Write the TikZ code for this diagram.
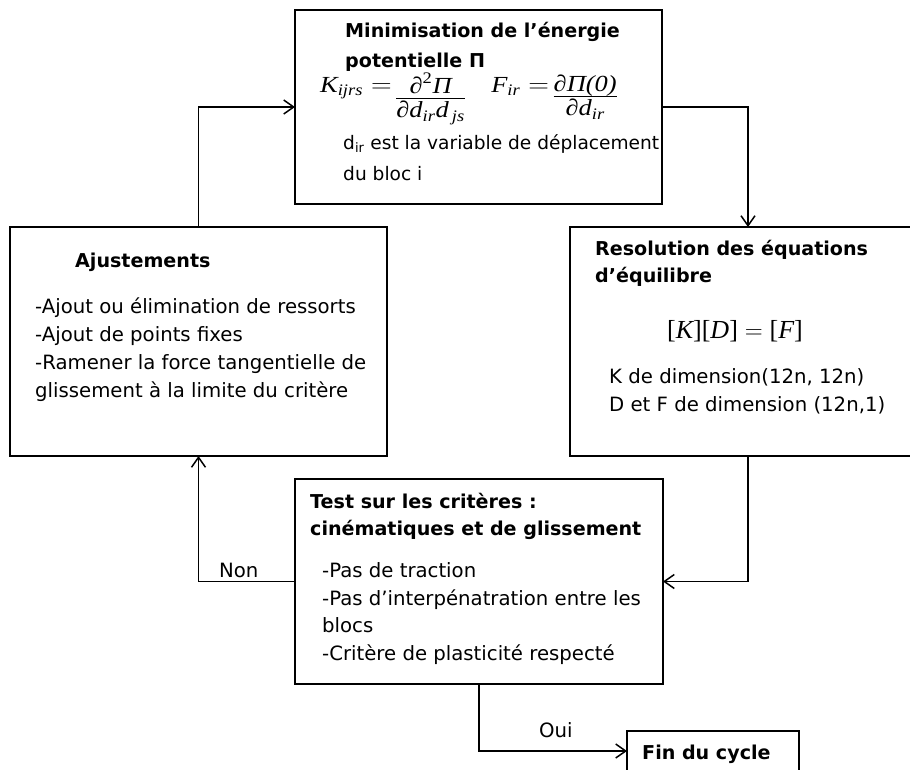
\documentclass[tikz,border=0pt]{standalone}
\usepackage{amsmath}
\usepackage{graphicx}
\usepackage{fontspec}
\setmainfont{DejaVu Sans}
\newfontfamily\tms{Liberation Serif}
\usetikzlibrary{arrows.meta}
\newcommand\mi[1]{\text{\tms\itshape #1}}
\newcommand\mr[1]{\text{\tms\upshape #1}}
\newcommand\myfrac[2]{\begin{array}{@{}c@{}}#1\\[-3pt]\hline\rule{0pt}{19pt}#2\end{array}}
\tikzset{
 box/.style={draw=black, line width=1.6pt, anchor=north west, inner sep=0pt, outer sep=0pt},
 txt/.style={anchor=base west, inner sep=0pt, font=\fontsize{19.7}{24}\selectfont},
 stxt/.style={anchor=base west, inner sep=0pt, font=\fontsize{18.6}{24}\selectfont},
 btxt/.style={anchor=base west, inner sep=0pt, font=\fontsize{19.1}{24}\selectfont\bfseries},
 conn/.style={line width=1.5pt, -{Straight Barb[length=10pt,width=14pt,line width=1.5pt]}},
}
\begin{document}
\begin{tikzpicture}[x=1pt,y=-1pt]
\useasboundingbox[fill=white] (0,0) rectangle (910,769);
% boxes
\node[box, minimum width=367pt, minimum height=194pt] (top) at (295,10) {};
\node[box, minimum width=377pt, minimum height=229pt] (ajust) at (10,227) {};
\node[box, minimum width=356pt, minimum height=229pt] (res) at (570,227) {};
\node[box, minimum width=368pt, minimum height=205pt] (test) at (295,479) {};
\node[box, minimum width=172pt, minimum height=40pt] (fin) at (627,731) {};
% top box text
\node[btxt] (t1) at (345,37) {Minimisation de l’énergie};
\node[btxt] (t2) at (345,67) {potentielle Π};
\node[anchor=base west, inner sep=0pt, font=\fontsize{23}{24}\selectfont] (eq1) at (320,105)
 {\scalebox{1.15}[1]{$\raisebox{13pt}{$\mi{K}_{\mi{ijrs}} =$}\, \myfrac{\mi{∂}^{\mr{2}}\mi{Π}}{\mi{∂d}_{\mi{ir}}\mi{d}_{\mi{\,js}}}\quad
   \raisebox{13pt}{$\mi{F}_{\mi{ir}} =$}\, \myfrac{\mi{∂Π(0)}}{\mi{∂d}_{\mi{ir}}}$}};
\node[stxt] (t3) at (343,149) {d\textsubscript{ir} est la variable de déplacement};
\node[stxt] (t4) at (343,180) {du bloc i};
% ajustements
\node[btxt] (a1) at (75,267) {Ajustements};
\node[txt] (a2) at (35,313) {-Ajout ou élimination de ressorts};
\node[txt] (a3) at (35,341) {-Ajout de points fixes};
\node[txt] (a4) at (35,369) {-Ramener la force tangentielle de};
\node[txt] (a5) at (35,397) {glissement à la limite du critère};
% resolution
\node[btxt] (r1) at (595,255) {Resolution des équations};
\node[btxt] (r2) at (595,282) {d’équilibre};
\node[anchor=base, inner sep=0pt, font=\fontsize{26}{30}\selectfont] (eq2) at (735,338)
 {$\mr{[}\mi{K}\mr{]}\mr{[}\mi{D}\mr{]}=\mr{[}\mi{F}\mr{]}$};
\node[txt] (r3) at (609,383) {K de dimension(12n, 12n)};
\node[txt] (r4) at (609,411) {D et F de dimension (12n,1)};
% test
\node[btxt] (s1) at (310,508) {Test sur les critères :};
\node[btxt] (s2) at (310,535) {cinématiques et de glissement};
\node[txt] (s3) at (322,577) {-Pas de traction};
\node[txt] (s4) at (322,605) {-Pas d’interpénatration entre les};
\node[txt] (s5) at (322,632) {blocs};
\node[txt] (s6) at (322,660) {-Critère de plasticité respecté};
% fin
\node[btxt] (f1) at (642,759) {Fin du cycle};
% labels
\node[txt] (non) at (219,577) {Non};
\node[txt] (oui) at (539,737) {Oui};
% connectors
\draw[conn] (ajust.north) |- (top.west);
\draw[conn] (top.east) -| (res.north);
\draw[conn] (res.south) |- (test.east);
\draw[conn] (test.west) -| (ajust.south);
\draw[conn] (test.south) |- (fin.west);
\end{tikzpicture}
\end{document}
